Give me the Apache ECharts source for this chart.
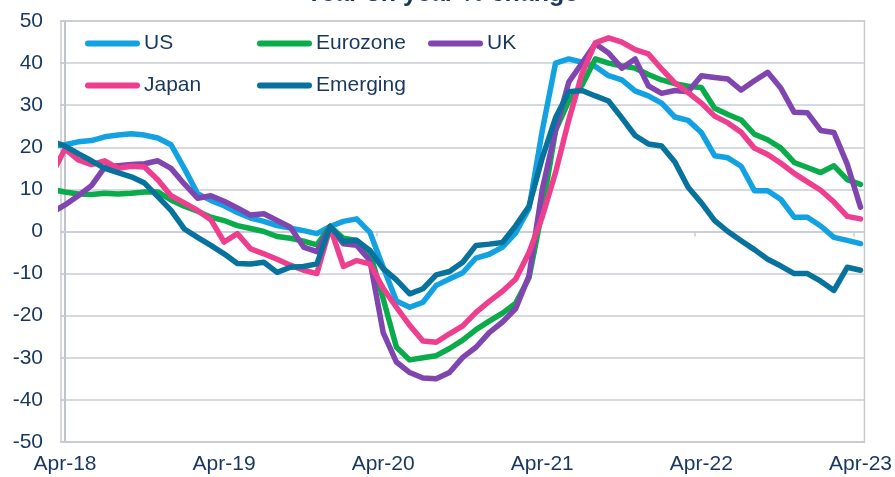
<!DOCTYPE html>
<html>
<head>
<meta charset="utf-8">
<script src="https://cdn.jsdelivr.net/npm/echarts@6/dist/echarts.min.js"></script>
<style>
  html, body { margin: 0; padding: 0; background: #fff; }
  #chart { width: 895px; height: 477px; }
</style>
</head>
<body>
<div id="chart"></div>
<script>
// monthly, first entry (Mar-18) sits just left of the axis and gets clipped
const months = [
  'Mar-18', 'Apr-18', 'May-18', 'Jun-18', 'Jul-18', 'Aug-18', 'Sep-18', 'Oct-18', 'Nov-18', 'Dec-18',
  'Jan-19', 'Feb-19', 'Mar-19', 'Apr-19', 'May-19', 'Jun-19', 'Jul-19', 'Aug-19', 'Sep-19', 'Oct-19',
  'Nov-19', 'Dec-19', 'Jan-20', 'Feb-20', 'Mar-20', 'Apr-20', 'May-20', 'Jun-20', 'Jul-20', 'Aug-20',
  'Sep-20', 'Oct-20', 'Nov-20', 'Dec-20', 'Jan-21', 'Feb-21', 'Mar-21', 'Apr-21', 'May-21', 'Jun-21',
  'Jul-21', 'Aug-21', 'Sep-21', 'Oct-21', 'Nov-21', 'Dec-21', 'Jan-22', 'Feb-22', 'Mar-22', 'Apr-22',
  'May-22', 'Jun-22', 'Jul-22', 'Aug-22', 'Sep-22', 'Oct-22', 'Nov-22', 'Dec-22', 'Jan-23', 'Feb-23',
  'Mar-23', 'Apr-23'
]
const tickLabels = ['Apr-18', 'Apr-19', 'Apr-20', 'Apr-21', 'Apr-22', 'Apr-23']

const us = [20.2, 20.6, 21.3, 21.6, 22.5, 22.9, 23.2, 22.9, 22.2, 20.6, 15, 9, 7.4, 6.1, 4.5, 3.2, 2.4, 1.4, 0.8, 0.2,
  -0.5, 1.2, 2.4, 3, -0.2, -8.5, -16.5, -18, -16.8, -12.8, -11.3, -9.8, -6.3, -5.4, -3.7, -0.3, 5.5, 24, 40, 41,
  40.2, 39.2, 37, 36, 33.4, 32.2, 30.5, 27.2, 26.4, 23.5, 18, 17.5, 15.5, 9.7, 9.7, 7.6, 3.4, 3.4, 1.3, -1.4,
  -2.1, -2.9]
const eurozone = [10, 9.4, 8.9, 8.8, 9.1, 8.9, 9.1, 9.4, 9.4, 7.5, 6, 4.8, 3.4, 2.6, 1.4, 0.7, 0, -1.2, -1.6, -2.3,
  -3.2, 1.2, -1.6, -2.1, -5, -16, -27.5, -30.5, -30, -29.5, -27.8, -25.8, -23.3, -21.3, -19.4, -17, -11, 5, 24, 31,
  34.8, 41, 40, 39.3, 38.8, 37.3, 36, 35.1, 34.5, 34.2, 29.3, 27.8, 26.5, 23.1, 21.8, 19.8, 16.4, 15.2, 14, 15.6,
  12.3, 11.2]
const uk = [4.5, 6.3, 8.5, 10.9, 15.3, 15.6, 15.9, 16.1, 16.8, 15, 11.3, 7.9, 8.5, 7.2, 5.6, 3.9, 4.2, 2.6, 1, -3.7,
  -4.8, 1.2, -2.9, -3.3, -6.9, -24, -31, -33.5, -34.8, -35, -33.5, -29.9, -27.5, -24, -21.5, -18.3, -10.5, 10, 24, 35.5,
  40, 44.6, 42.4, 38.8, 41, 34.6, 32.8, 33.5, 33.2, 37, 36.6, 36.2, 33.6, 35.8, 37.8, 34, 28.3, 28.2, 24, 23.5,
  16, 5.8]
const japan = [13.5, 19.6, 17, 15.9, 16.8, 15, 15.5, 15.3, 12.3, 8.5, 6.8, 5, 2.8, -2.5, -0.5, -4.1, -5.3, -6.6, -8, -9.2,
  -10, 1, -8.3, -6.9, -7.7, -13.5, -18, -22.3, -26, -26.3, -24.3, -22.4, -19.2, -16.6, -14.2, -11.3, -5, 3.5, 14, 26.5,
  37.5, 44.8, 46, 45, 43.2, 42.2, 38.6, 35.3, 33, 30.5, 27.4, 25.8, 23.6, 19.8, 18.3, 16.2, 13.8, 11.8, 9.8, 7,
  3.6, 3]
const emerging = [21.5, 20.3, 18.5, 16.8, 15, 14, 13, 11.5, 8.3, 5, 0.6, -1.4, -3.3, -5.3, -7.6, -7.7, -7.3, -9.7, -8.5, -8.3,
  -7.7, 1.2, -2.4, -2.1, -4.5, -8.8, -11.5, -14.8, -13.6, -10.3, -9.5, -7.3, -3.3, -3, -2.6, 1.4, 6, 17.5, 27, 33.2,
  33.5, 32.2, 31, 27, 22.8, 20.8, 20.3, 16.5, 10.5, 6.8, 2.6, 0, -2.2, -4.3, -6.6, -8.2, -10, -10, -11.8, -14,
  -8.5, -9.2]

const seriesList = [
  { name: 'US', data: us, color: '#12a2e2' },
  { name: 'Eurozone', data: eurozone, color: '#0aab4a' },
  { name: 'UK', data: uk, color: '#8145b0' },
  { name: 'Japan', data: japan, color: '#ee3f8f' },
  { name: 'Emerging', data: emerging, color: '#07739c' }
]

const navy = '#17375e'
const gridGrey = '#c8ccd2'
const font = "'Liberation Sans', Arial, sans-serif"

// x position of a month = index from Apr-18
const toPoints = arr => arr.map((v, i) => [i - 1, v])

// rounded bar, stretched to itemWidth x itemHeight
const legendIcon = 'path://M3,0 L52,0 A3,3 0 0 1 52,6 L3,6 A3,3 0 0 1 3,0 Z'

const legendPos = [
  { name: 'US', left: 85, top: 33 },
  { name: 'Eurozone', left: 257, top: 33 },
  { name: 'UK', left: 428, top: 33 },
  { name: 'Japan', left: 85, top: 75 },
  { name: 'Emerging', left: 257, top: 75 }
]

const chart = echarts.init(document.getElementById('chart'), null, { renderer: 'canvas' })

chart.setOption({
  animation: false,
  textStyle: { fontFamily: font },
  // title is cropped at the top edge in the original, only its lower part shows
  graphic: [{
    type: 'text',
    x: 442,
    y: 6.5,
    z: 10,
    style: {
      text: 'Year on year % change',
      align: 'center',
      verticalAlign: 'bottom',
      fontSize: 25,
      fontWeight: 'bold',
      fontFamily: font,
      fill: navy
    }
  }],
  legend: legendPos.map(p => ({
    data: [p.name],
    left: p.left,
    top: p.top,
    padding: 0,
    icon: legendIcon,
    itemWidth: 55,
    itemHeight: 6,
    itemGap: 0,
    textStyle: { fontSize: 21, color: navy, fontFamily: font, padding: [0, 0, 0, -1] }
  })),
  grid: {
    left: 61,
    right: 26,
    top: 21,
    bottom: 35,
    show: true,
    borderColor: gridGrey,
    borderWidth: 1.5
  },
  xAxis: [
    {
      type: 'value',
      min: -0.3,
      max: 60.3,
      axisLine: { show: true, onZero: false, lineStyle: { color: gridGrey, width: 1.5 } },
      axisTick: { show: false },
      splitLine: { show: false },
      axisLabel: {
        customValues: [0, 12, 24, 36, 48, 60],
        formatter: v => tickLabels[Math.round(v / 12)],
        fontSize: 21,
        color: navy,
        margin: 12,
        fontFamily: font
      }
    },
    {
      type: 'value',
      position: 'bottom',
      min: -0.3,
      max: 60.3,
      axisLine: { show: true, onZero: true, lineStyle: { color: gridGrey, width: 1.5 } },
      axisTick: {
        show: true,
        customValues: [11.5, 23.5, 35.5, 47.5, 59.5],
        length: 5,
        lineStyle: { color: gridGrey, width: 1.5 }
      },
      axisLabel: { show: false },
      splitLine: { show: false }
    }
  ],
  yAxis: {
    type: 'value',
    min: -50,
    max: 50,
    interval: 10,
    axisLine: { show: true, lineStyle: { color: '#bfc4cb', width: 2 } },
    axisTick: { show: true, length: 5, lineStyle: { color: gridGrey, width: 1.5 } },
    splitLine: { lineStyle: { color: gridGrey, width: 1.5 } },
    axisLabel: { fontSize: 21, color: navy, margin: 18, fontFamily: font }
  },
  series: seriesList.map(s => ({
    name: s.name,
    type: 'line',
    xAxisIndex: 0,
    data: toPoints(s.data),
    symbol: 'none',
    clip: true,
    color: s.color,
    lineStyle: { color: s.color, width: 5.5, cap: 'round', join: 'round' }
  }))
})
</script>
</body>
</html>
